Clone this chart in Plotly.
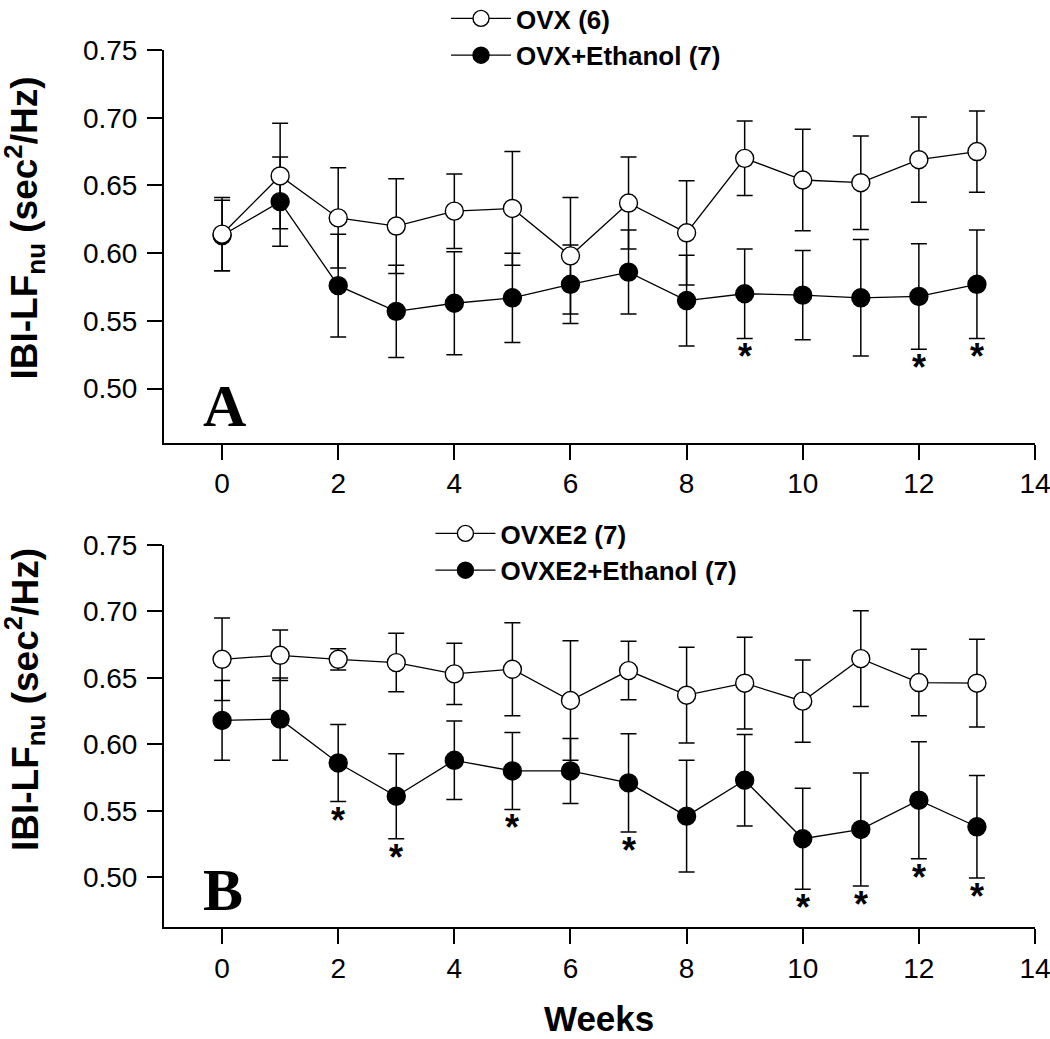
import plotly.graph_objects as go

# ---------------- data ----------------
weeks = list(range(14))

ovx_mean = [0.614, 0.657, 0.626, 0.620, 0.631, 0.633, 0.598, 0.637, 0.615, 0.670, 0.654, 0.652, 0.669, 0.675]
ovx_err = [0.027, 0.039, 0.037, 0.035, 0.0275, 0.042, 0.043, 0.034, 0.0385, 0.0275, 0.0375, 0.0345, 0.0315, 0.030]
ovx_eth_mean = [0.613, 0.638, 0.576, 0.557, 0.563, 0.567, 0.577, 0.586, 0.565, 0.570, 0.569, 0.567, 0.568, 0.577]
ovx_eth_err = [0.026, 0.033, 0.038, 0.034, 0.038, 0.033, 0.029, 0.031, 0.0335, 0.033, 0.033, 0.043, 0.039, 0.040]

ovxe2_mean = [0.664, 0.667, 0.664, 0.6615, 0.653, 0.6565, 0.633, 0.6555, 0.637, 0.646, 0.6325, 0.6645, 0.6465, 0.646]
ovxe2_err = [0.031, 0.019, 0.008, 0.022, 0.023, 0.035, 0.045, 0.022, 0.036, 0.0345, 0.031, 0.036, 0.025, 0.033]
ovxe2_eth_mean = [0.618, 0.619, 0.586, 0.561, 0.588, 0.580, 0.580, 0.571, 0.546, 0.573, 0.529, 0.536, 0.558, 0.538]
ovxe2_eth_err = [0.030, 0.031, 0.029, 0.032, 0.0295, 0.029, 0.0245, 0.037, 0.042, 0.0345, 0.038, 0.0425, 0.044, 0.0385]

sig_weeks_a = [9, 12, 13]
sig_weeks_b = [2, 3, 5, 7, 10, 11, 12, 13]

names_a = ["OVX (6)", "OVX+Ethanol (7)"]
names_b = ["OVXE2 (7)", "OVXE2+Ethanol (7)"]

x_ticks = [0, 2, 4, 6, 8, 10, 12, 14]
y_ticks = [0.50, 0.55, 0.60, 0.65, 0.70, 0.75]

# ---------------- styling ----------------
SANS = "Arial, Liberation Sans, sans-serif"
SERIF = "Times New Roman, Liberation Serif, serif"
BLACK = "#000000"

fig = go.Figure()


def add_series(x, y, err, name, filled, xa, ya, legend):
    fig.add_trace(go.Scatter(
        x=x, y=y, name=name, mode="lines+markers",
        xaxis=xa, yaxis=ya, legend=legend,
        line=dict(color=BLACK, width=1.3),
        marker=dict(symbol="circle", size=18,
                    color=BLACK if filled else "#ffffff",
                    line=dict(color=BLACK, width=1.4)),
        error_y=dict(type="data", array=err, visible=True,
                     color=BLACK, thickness=1.5, width=8),
    ))


add_series(weeks, ovx_eth_mean, ovx_eth_err, names_a[1], True, "x", "y", "legend")
add_series(weeks, ovx_mean, ovx_err, names_a[0], False, "x", "y", "legend")
add_series(weeks, ovxe2_eth_mean, ovxe2_eth_err, names_b[1], True, "x2", "y2", "legend2")
add_series(weeks, ovxe2_mean, ovxe2_err, names_b[0], False, "x2", "y2", "legend2")

annotations = []
star_font = dict(family=SANS, size=36, color=BLACK, weight="bold")
for w in sig_weeks_a:
    annotations.append(dict(x=w, y=ovx_eth_mean[w] - ovx_eth_err[w], xref="x", yref="y",
                            text="*", showarrow=False, yanchor="top", yshift=4,
                            font=star_font))
for w in sig_weeks_b:
    annotations.append(dict(x=w, y=ovxe2_eth_mean[w] - ovxe2_eth_err[w], xref="x2", yref="y2",
                            text="*", showarrow=False, yanchor="top", yshift=4,
                            font=star_font))

# panel letters
annotations.append(dict(x=0.070, y=0.0935, xref="x domain", yref="y domain", text="<b>A</b>",
                        showarrow=False, xanchor="center", yanchor="middle",
                        font=dict(family=SERIF, size=60, color=BLACK)))
annotations.append(dict(x=0.068, y=0.097, xref="x2 domain", yref="y2 domain", text="<b>B</b>",
                        showarrow=False, xanchor="center", yanchor="middle",
                        font=dict(family=SERIF, size=60, color=BLACK)))

ytitle = "<b>IBI-LF<sub>nu</sub> (sec<sup>2</sup>/Hz)</b>"
annotations.append(dict(x=-0.1607, y=0.7965, xref="paper", yref="paper", text=ytitle,
                        textangle=-90, showarrow=False, xanchor="center", yanchor="middle",
                        font=dict(family=SANS, size=37, color=BLACK)))
annotations.append(dict(x=-0.1607, y=0.2588, xref="paper", yref="paper", text=ytitle,
                        textangle=-90, showarrow=False, xanchor="center", yanchor="middle",
                        font=dict(family=SANS, size=37, color=BLACK)))
annotations.append(dict(x=0.4998, y=-0.1038, xref="paper", yref="paper", text="<b>Weeks</b>",
                        showarrow=False, xanchor="center", yanchor="middle",
                        font=dict(family=SANS, size=35, color=BLACK)))

axis_common = dict(showline=True, linewidth=2, linecolor=BLACK, mirror=False,
                   ticks="outside", ticklen=15, tickwidth=2, tickcolor=BLACK,
                   showgrid=False, zeroline=False, ticklabeloverflow="allow",
                   tickfont=dict(family=SANS, size=28, color=BLACK))

xa = dict(axis_common, range=[-1, 14], tickvals=x_ticks, ticktext=[str(v) for v in x_ticks])
ya = dict(axis_common, tickvals=y_ticks, ticktext=["%.2f" % v for v in y_ticks],
          ticklabelstandoff=4)

legend_common = dict(xanchor="left", yanchor="top", bgcolor="rgba(0,0,0,0)", borderwidth=0,
                     font=dict(family=SANS, size=26, color=BLACK, weight="bold"),
                     traceorder="reversed", itemwidth=60, tracegroupgap=0)

fig.update_layout(
    width=1050, height=1039,
    paper_bgcolor="white", plot_bgcolor="white",
    margin=dict(l=164, r=15, t=50, b=112, autoexpand=False),
    xaxis=dict(xa, anchor="y", domain=[0, 1]),
    yaxis=dict(ya, anchor="x", domain=[0.5522, 1.0], range=[0.46, 0.75]),
    xaxis2=dict(xa, anchor="y2", domain=[0, 1]),
    yaxis2=dict(ya, anchor="x2", domain=[0.0, 0.4356], range=[0.4626, 0.75]),
    legend=dict(legend_common, x=0.3238, y=1.0627),
    legend2=dict(legend_common, x=0.3059, y=0.4755),
    annotations=annotations,
    showlegend=True,
)

fig.write_html("out.html", config={"displayModeBar": False},
               post_script="document.body.style.margin='0';document.body.style.overflow='hidden';")
